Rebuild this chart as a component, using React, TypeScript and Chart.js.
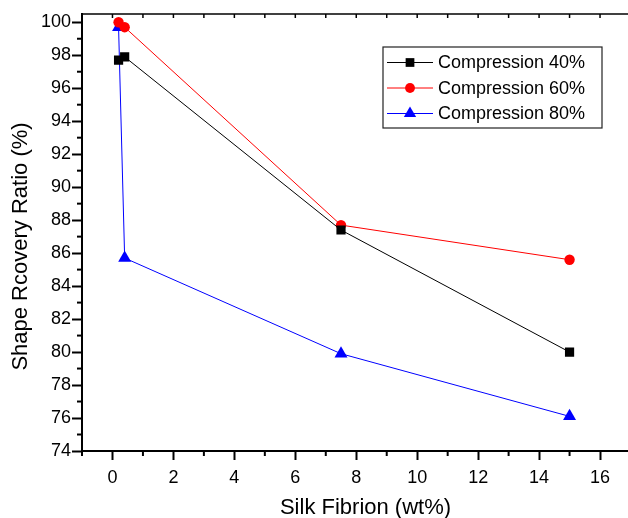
import React, { useEffect, useRef } from 'react';
import { Chart, registerables } from 'chart.js';

Chart.register(...registerables);

const silkFibroin = [0.2, 0.4, 7.5, 15];
const compression40 = [97.7, 97.9, 87.4, 80.0];
const compression60 = [100.0, 99.7, 87.7, 85.6];
const compression80 = [99.7, 85.7, 79.9, 76.1];
const seriesLabels = ['Compression 40%', 'Compression 60%', 'Compression 80%'];
const xTickLabels = ['0', '2', '4', '6', '8', '10', '12', '14', '16'];
const yTickLabels = ['74', '76', '78', '80', '82', '84', '86', '88', '90', '92', '94', '96', '98', '100'];
const xTitle = 'Silk Fibrion (wt%)';
const yTitle = 'Shape Rcovery Ratio (%)';

const FONT = "'Liberation Sans', Arial, sans-serif";
const X_MIN = -1;
const X_MAX = 17;
const Y_MIN = 74;
const Y_MAX = 100.5;

function drawMarker(ctx: CanvasRenderingContext2D, style: string, x: number, y: number, r: number, color: string) {
  ctx.save();
  ctx.fillStyle = color;
  ctx.beginPath();
  if (style === 'rect') {
    const s = Math.SQRT1_2 * r;
    ctx.rect(x - s, y - s, 2 * s, 2 * s);
  } else if (style === 'triangle') {
    let rad = 0;
    ctx.moveTo(x + Math.sin(rad) * r, y - Math.cos(rad) * r);
    rad += (2 * Math.PI) / 3;
    ctx.lineTo(x + Math.sin(rad) * r, y - Math.cos(rad) * r);
    rad += (2 * Math.PI) / 3;
    ctx.lineTo(x + Math.sin(rad) * r, y - Math.cos(rad) * r);
    ctx.closePath();
  } else {
    ctx.arc(x, y, r, 0, Math.PI * 2);
  }
  ctx.fill();
  ctx.restore();
}

const decorPlugin = {
  id: 'decor',
  afterDraw(chart: any) {
    const { ctx, chartArea, scales } = chart;
    const { left, right, top, bottom } = chartArea;
    const xs = scales.x;
    const ys = scales.y;
    ctx.save();
    ctx.strokeStyle = '#000';
    ctx.lineWidth = 1.5;
    ctx.beginPath();
    ctx.moveTo(left, top);
    ctx.lineTo(right + 2, top);
    ctx.stroke();
    for (let v = X_MIN; v <= X_MAX; v++) {
      const px = xs.getPixelForValue(v);
      ctx.beginPath();
      ctx.moveTo(px, top);
      ctx.lineTo(px, top + 4);
      ctx.stroke();
    }
    ctx.lineWidth = 2;
    for (let v = X_MIN; v <= X_MAX; v++) {
      if (xTickLabels.includes(String(v))) continue;
      const px = xs.getPixelForValue(v);
      ctx.beginPath();
      ctx.moveTo(px, bottom);
      ctx.lineTo(px, bottom + 5);
      ctx.stroke();
    }
    for (let v = Y_MIN; v <= Math.floor(Y_MAX); v++) {
      if (yTickLabels.includes(String(v))) continue;
      const py = ys.getPixelForValue(v);
      ctx.beginPath();
      ctx.moveTo(left - 5, py);
      ctx.lineTo(left, py);
      ctx.stroke();
    }
    ctx.fillStyle = '#000';
    ctx.font = `22px ${FONT}`;
    ctx.textAlign = 'center';
    ctx.textBaseline = 'alphabetic';
    ctx.fillText(xTitle, 365.5, 514);
    ctx.save();
    ctx.translate(27, 246.5);
    ctx.rotate(-Math.PI / 2);
    ctx.fillText(yTitle, 0, 0);
    ctx.restore();

    const bx = 383, by = 47, bw = 219, bh = 81;
    ctx.fillStyle = '#fff';
    ctx.fillRect(bx, by, bw, bh);
    ctx.strokeStyle = '#222';
    ctx.lineWidth = 1.2;
    ctx.strokeRect(bx, by, bw, bh);
    const rows = [62.5, 88, 113.5];
    chart.data.datasets.forEach((ds: any, i: number) => {
      const ry = rows[i];
      ctx.strokeStyle = ds.borderColor;
      ctx.lineWidth = 1;
      ctx.beginPath();
      ctx.moveTo(387, ry);
      ctx.lineTo(433, ry);
      ctx.stroke();
      drawMarker(ctx, ds.pointStyle, 410, ry, ds.pointRadius * 0.95, ds.borderColor);
      ctx.fillStyle = '#000';
      ctx.font = `18px ${FONT}`;
      ctx.textAlign = 'left';
      ctx.textBaseline = 'middle';
      ctx.fillText(ds.label, 438, ry + 1);
    });
    ctx.restore();
  },
};

function toPoints(ys: number[]) {
  return silkFibroin.map((x, i) => ({ x, y: ys[i] }));
}

export default function App() {
  const ref = useRef<HTMLCanvasElement | null>(null);
  useEffect(() => {
    if (!ref.current) return;
    const colors = ['#000000', '#ff0000', '#0000ff'];
    const styles = ['rect', 'circle', 'triangle'];
    const radii = [6.5, 5.2, 7.5];
    const series = [compression40, compression60, compression80];
    const chart = new Chart(ref.current, {
      type: 'line',
      data: {
        datasets: series.map((s, i) => ({
          label: seriesLabels[i],
          data: toPoints(s),
          borderColor: colors[i],
          backgroundColor: colors[i],
          pointBackgroundColor: colors[i],
          pointBorderColor: colors[i],
          pointBorderWidth: 0,
          pointStyle: styles[i],
          pointRadius: radii[i],
          borderWidth: 1,
          tension: 0,
          fill: false,
        })),
      },
      options: {
        animation: false,
        responsive: false,
        maintainAspectRatio: false,
        layout: { padding: { top: 14, right: 0, left: 0, bottom: 0 } },
        plugins: {
          legend: { display: false },
          tooltip: { enabled: false },
        },
        scales: {
          x: {
            type: 'linear',
            min: X_MIN,
            max: X_MAX,
            afterBuildTicks: (s: any) => {
              const t = [];
              for (let v = X_MIN; v <= X_MAX; v++) t.push({ value: v });
              s.ticks = t;
            },
            afterFit: (s: any) => {
              s.height = 67;
            },
            grid: {
              display: true,
              drawOnChartArea: false,
              drawTicks: true,
              tickLength: 9,
              tickWidth: 2,
              tickColor: (c: any) =>
                c.tick && xTickLabels.includes(String(c.tick.value)) ? '#000' : 'rgba(0,0,0,0)',
            },
            border: { display: true, color: '#000', width: 2 },
            ticks: {
              autoSkip: false,
              maxRotation: 0,
              padding: 7,
              color: '#000',
              font: { family: FONT, size: 18 },
              callback: (v: any) => (xTickLabels.includes(String(v)) ? String(v) : ''),
            },
          },
          y: {
            type: 'linear',
            min: Y_MIN,
            max: Y_MAX,
            afterBuildTicks: (s: any) => {
              const t = [];
              for (let v = Y_MIN; v <= Math.floor(Y_MAX); v++) t.push({ value: v });
              s.ticks = t;
            },
            afterFit: (s: any) => {
              s.width = 82;
            },
            grid: {
              display: true,
              drawOnChartArea: false,
              drawTicks: true,
              tickLength: 10,
              tickWidth: 2,
              tickColor: (c: any) =>
                c.tick && yTickLabels.includes(String(c.tick.value)) ? '#000' : 'rgba(0,0,0,0)',
            },
            border: { display: true, color: '#000', width: 2 },
            ticks: {
              autoSkip: false,
              padding: 1,
              color: '#000',
              font: { family: FONT, size: 18 },
              callback: (v: any) => (yTickLabels.includes(String(v)) ? String(v) : ''),
            },
          },
        },
      },
      plugins: [decorPlugin],
    } as any);
    return () => chart.destroy();
  }, []);
  return (
    <div style={{ position: 'fixed', left: 0, top: 0, width: 628, height: 518, overflow: 'hidden', background: '#fff' }}>
      <canvas ref={ref} width={638} height={518} style={{ display: 'block' }} />
    </div>
  );
}
